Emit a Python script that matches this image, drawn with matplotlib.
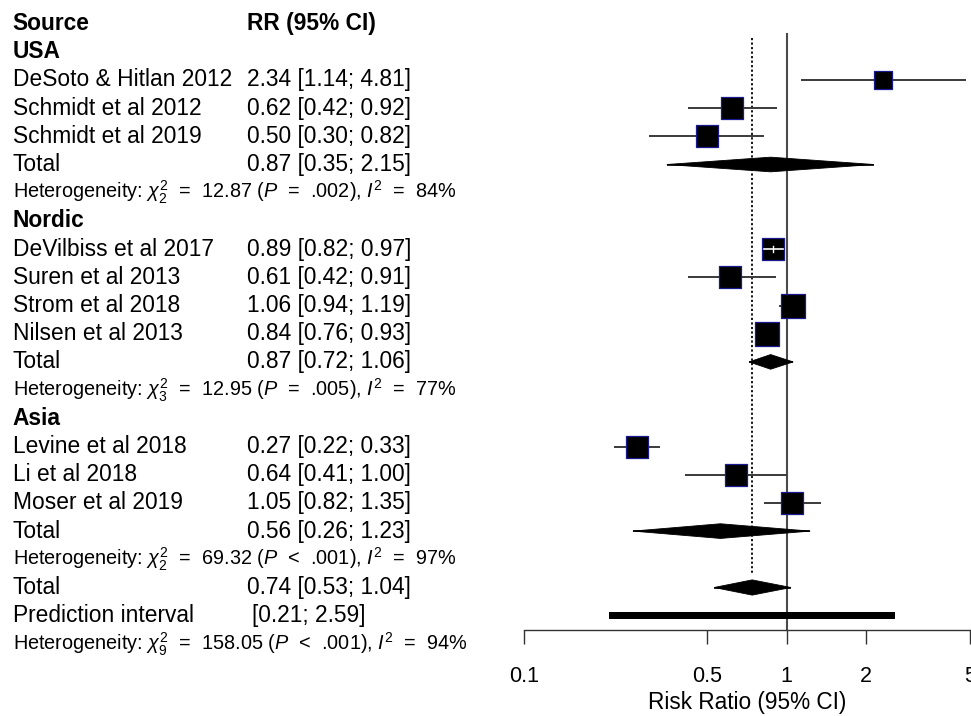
import numpy as np
import matplotlib
matplotlib.use("Agg")
import matplotlib.pyplot as plt
from matplotlib.transforms import blended_transform_factory
from matplotlib.patches import Polygon
from matplotlib.ticker import NullLocator, FixedLocator, FixedFormatter

plt.rcParams['font.family'] = ['Liberation Sans', 'DejaVu Sans']
plt.rcParams['mathtext.fontset'] = 'custom'
plt.rcParams['mathtext.rm'] = 'Liberation Sans'
plt.rcParams['mathtext.it'] = 'Liberation Sans:italic'
plt.rcParams['mathtext.bf'] = 'Liberation Sans:bold'

# ---------------- data ----------------
groups = ["USA", "Nordic", "Asia"]
studies = ["DeSoto & Hitlan 2012", "Schmidt et al 2012", "Schmidt et al 2019",
           "DeVilbiss et al 2017", "Suren et al 2013", "Strom et al 2018", "Nilsen et al 2013",
           "Levine et al 2018", "Li et al 2018", "Moser et al 2019"]
study_group = [0, 0, 0, 1, 1, 1, 1, 2, 2, 2]
rr = [2.34, 0.62, 0.50, 0.89, 0.61, 1.06, 0.84, 0.27, 0.64, 1.05]
ci_low = [1.14, 0.42, 0.30, 0.82, 0.42, 0.94, 0.76, 0.22, 0.41, 0.82]
ci_high = [4.81, 0.92, 0.82, 0.97, 0.91, 1.19, 0.93, 0.33, 1.00, 1.35]
weights = [6.6, 10.1, 9.1, 9.7, 9.9, 11.5, 10.8, 9.7, 8.9, 9.8]

sub_rr = [0.87, 0.87, 0.56]
sub_low = [0.35, 0.72, 0.26]
sub_high = [2.15, 1.06, 1.23]
sub_chi2 = ["12.87", "12.95", "69.32"]
sub_df = [2, 3, 2]
sub_p_op = ["=", "=", "<"]
sub_p = [".002", ".005", ".001"]
sub_i2 = [84, 77, 97]

overall_rr = 0.74
overall_low = 0.53
overall_high = 1.04
pred_low = 0.21
pred_high = 2.59
overall_chi2 = "158.05"
overall_df = 9
overall_p_op = "<"
overall_p = ".001"
overall_i2 = 94

xticks = [0.1, 0.5, 1, 2, 5]
xtick_labels = ["0.1", "0.5", "1", "2", "5"]
xlabel = "Risk Ratio (95% CI)"

# ---------------- figure ----------------
W, H = 971, 716
fig = plt.figure(figsize=(W / 100, H / 100), dpi=100)
ROW0, ROWH = 23.5, 28.2  # pixel y of row 0 and row height
ax = fig.add_axes([524 / W, 0, 446 / W, 1])
ax.set_xscale('log')
ax.set_xlim(0.1, 5)
ax.set_ylim((H - ROW0) / ROWH, -ROW0 / ROWH)
for s in ['top', 'left', 'right']:
    ax.spines[s].set_visible(False)
ax.spines['bottom'].set_position(('data', 21.5))
ax.spines['bottom'].set_bounds(0.1, 5)
ax.spines['bottom'].set_color('#333333')
ax.spines['bottom'].set_linewidth(1.0)
ax.yaxis.set_visible(False)
ax.xaxis.set_major_locator(FixedLocator(xticks))
ax.xaxis.set_major_formatter(FixedFormatter(xtick_labels))
ax.xaxis.set_minor_locator(NullLocator())
ax.tick_params(axis='x', direction='out', length=10, width=1.0, color='#333333',
               pad=16, labelsize=15.5)
ax.set_xlabel(xlabel, fontsize=16.3, labelpad=3)
ax.patch.set_visible(False)

tleft = blended_transform_factory(fig.transFigure, ax.transData)
FS = 16.4
FSH = 14.3
X1 = 12.5 / W
X2 = 247 / W


def txt(x, y, s, fs=FS, bold=False):
    ax.text(x, y, s, transform=tleft, fontsize=fs, ha='left', va='center',
            fontweight='bold' if bold else 'normal', clip_on=False)


def ci_str(e, l, h):
    return f"{e:.2f} [{l:.2f}; {h:.2f}]"


def het_str(chi, df, op, p, i2):
    return (rf"Heterogeneity: $\chi^2_{{{df}}}$  =  {chi} ($P$  {op}  {p}), "
            rf"$I^2$  =  {i2}%")


def diamond(y, e, l, h, hh=0.26):
    poly = Polygon([(l, y), (e, y - hh), (h, y), (e, y + hh)], closed=True,
                   facecolor='black', edgecolor='black', lw=0.6, zorder=4)
    ax.add_patch(poly)
    ax.plot([l, h], [y, y], color='black', lw=1.2, zorder=4, solid_capstyle='butt')


txt(X1, 0, "Source", bold=True)
txt(X2, 0, "RR (95% CI)", bold=True)

px_per_dec = 446 / np.log10(50)
row = 1
for g, gname in enumerate(groups):
    txt(X1, row, gname, bold=True)
    row += 1
    for i in [k for k in range(len(studies)) if study_group[k] == g]:
        txt(X1, row, studies[i])
        txt(X2, row, ci_str(rr[i], ci_low[i], ci_high[i]))
        ax.plot([ci_low[i], ci_high[i]], [row, row], color='#3a3a3a', lw=1.4, zorder=2,
                solid_capstyle='butt')
        side_px = 7.2 * np.sqrt(weights[i])
        side_pt = side_px * 0.72
        ax.scatter([rr[i]], [row], marker='s', s=side_pt ** 2, facecolor='black',
                   edgecolor='#1a1a90', linewidths=0.9, zorder=3)
        half = side_px / 2
        dl = (np.log10(rr[i]) - np.log10(ci_low[i])) * px_per_dec
        dh = (np.log10(ci_high[i]) - np.log10(rr[i])) * px_per_dec
        if dl < half - 1.2 and dh < half - 1.2:
            ax.plot([ci_low[i], ci_high[i]], [row, row], color='white', lw=1.2, zorder=5)
            ax.plot([rr[i], rr[i]], [row - 0.1, row + 0.1], color='white', lw=1.0, zorder=5)
        row += 1
    txt(X1, row, "Total")
    txt(X2, row, ci_str(sub_rr[g], sub_low[g], sub_high[g]))
    diamond(row, sub_rr[g], sub_low[g], sub_high[g])
    row += 1
    txt(X1, row, het_str(sub_chi2[g], sub_df[g], sub_p_op[g], sub_p[g], sub_i2[g]), fs=FSH)
    row += 1

txt(X1, row, "Total")
txt(X2, row, ci_str(overall_rr, overall_low, overall_high))
diamond(row, overall_rr, overall_low, overall_high, hh=0.27)
overall_row = row
row += 1
txt(X1, row, "Prediction interval")
txt(252 / W, row, f"[{pred_low:.2f}; {pred_high:.2f}]")
ax.barh(row, pred_high - pred_low, left=pred_low, height=0.25, color='black', zorder=3)
row += 1
txt(X1, row, het_str(overall_chi2, overall_df, overall_p_op, overall_p, overall_i2), fs=FSH)

# reference lines
ax.plot([1, 1], [0.37, 21.5], color='#4a4a4a', lw=1.5, zorder=1)
ax.plot([overall_rr, overall_rr], [0.5, overall_row - 0.43], color='black', lw=1.3,
        ls=(0, (1.2, 1.3)), zorder=1)

fig.savefig("out.png", dpi=100)
